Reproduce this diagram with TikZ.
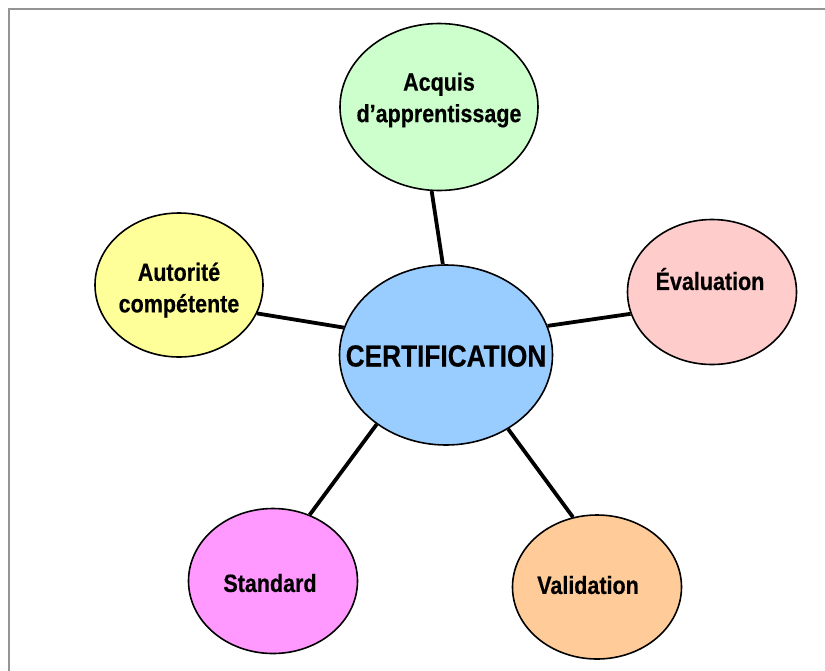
\documentclass[tikz,border=0pt]{standalone}
\usepackage{fontspec}
\usepackage{xcolor}
\usetikzlibrary{shapes.geometric}
\newfontfamily\etroite{Liberation Sans}[FakeStretch=0.86, FakeBold=0.4]
\definecolor{vert}{HTML}{CCFFCC}
\definecolor{jaune}{HTML}{FFFF99}
\definecolor{rose}{HTML}{FFCCCC}
\definecolor{magenta}{HTML}{FF99FF}
\definecolor{orange}{HTML}{FFCC99}
\definecolor{bleu}{HTML}{99CCFF}
\tikzset{
    bulle/.style = {draw, ellipse, line width=1.6pt, inner sep=0pt, minimum width=169pt, minimum height=145pt},
    texte/.style = {font=\etroite\bfseries\fontsize{25}{31.5}\selectfont, align=center},
    lien/.style = {line width=3.8pt},
    cadre/.style = {draw=black!42, line width=2.2pt}
}

\begin{document}
\begin{tikzpicture}[x=1pt, y=-1pt]
    \useasboundingbox (0,0) rectangle (825,670);
    \draw[cadre] (9,700) |- (860,9);
    % le centre
    \node[bulle, fill=bleu, minimum width=213pt, minimum height=180pt,
        label={[texte, font=\etroite\bfseries\fontsize{30.5}{36}\selectfont, yshift=-1pt]center:CERTIFICATION}] (cert) at (446,355) {};
    % les bulles autour
    \node[bulle, fill=vert, minimum width=198pt, minimum height=167pt,
        label={[texte, yshift=7pt]center:Acquis\\d’apprentissage}] (acquis) at (439,107) {};
    \node[bulle, fill=jaune, minimum width=168pt, minimum height=144pt,
        label={[texte, yshift=-5pt]center:Autorité\\compétente}] (autorite) at (179,285) {};
    \node[bulle, fill=rose,
        label={[texte, xshift=-2pt, yshift=13pt]center:Évaluation}] (eval) at (712,292) {};
    \node[bulle, fill=magenta,
        label={[texte, xshift=-3pt, yshift=-2pt]center:Standard}] (standard) at (273,581) {};
    \node[bulle, fill=orange, minimum height=144pt,
        label={[texte, xshift=-9pt, yshift=2pt]center:Validation}] (valid) at (597,587) {};
    % les liens
    \draw[lien] (acquis.-95) -- (cert.92);
    \draw[lien] (autorite.-20) -- (cert.165);
    \draw[lien] (eval.195) -- (cert.16);
    \draw[lien] (standard.61) -- (cert.-135);
    \draw[lien] (valid.109) -- (cert.-50);
\end{tikzpicture}
\end{document}
